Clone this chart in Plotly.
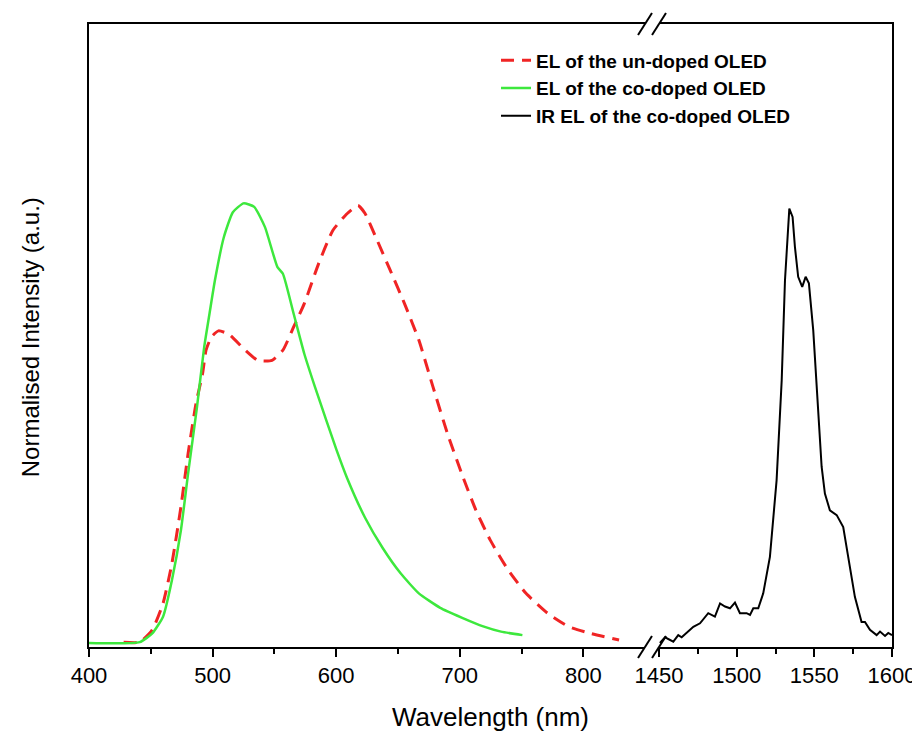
import plotly.graph_objects as go

# ---------------- data ----------------
wl_undoped = [428, 441, 451.2, 459.9, 467.1, 474.4, 480.2, 486.6, 491.9, 494.7, 499, 504.8,
              513.5, 525, 536.6, 548.1, 556.9, 565.6, 574.2, 585.8, 597.4, 609, 617.7, 623.4,
              632.1, 643.7, 655.3, 666.9, 678.4, 690, 701.5, 713.1, 724.7, 739.2, 753.6, 771,
              788.4, 805.8, 828.9]
int_undoped = [0.002, 0.002, 0.03, 0.09, 0.181, 0.31, 0.431, 0.545, 0.613, 0.666, 0.696, 0.71,
               0.702, 0.67, 0.643, 0.643, 0.666, 0.719, 0.772, 0.863, 0.939, 0.977, 0.995, 0.977,
               0.923, 0.848, 0.772, 0.689, 0.582, 0.477, 0.386, 0.302, 0.234, 0.166, 0.113, 0.068,
               0.037, 0.022, 0.007]

wl_codoped = [400, 441, 451.2, 459.9, 467.1, 474.4, 480.2, 487.4, 493.2, 497.5, 501.9, 509.1,
              516.4, 525, 533.7, 542.4, 552.5, 556.9, 565.6, 574.2, 582.9, 591.6, 600.2, 608.9,
              623.4, 637.9, 652.3, 666.9, 684.2, 701.5, 719, 733.4, 750.7]
int_codoped = [0.0, 0.002, 0.022, 0.06, 0.143, 0.257, 0.386, 0.537, 0.673, 0.749, 0.825, 0.923,
               0.98, 1.0, 0.992, 0.946, 0.855, 0.840, 0.749, 0.658, 0.582, 0.51, 0.44, 0.375,
               0.285, 0.215, 0.158, 0.113, 0.08, 0.058, 0.038, 0.026, 0.018]

wl_ir = [1450.6, 1453.9, 1459.2, 1462.4, 1464.6, 1472.1, 1476.4, 1481.7, 1486, 1489.3, 1492.5,
         1495.7, 1498.9, 1502.1, 1506.4, 1508.6, 1510.7, 1513.9, 1517.1, 1521.4, 1525.7, 1529,
         1531.1, 1533.9, 1536, 1537.5, 1539.6, 1542.2, 1544.4, 1546.5, 1549.3, 1552.5, 1554.7,
         1556.8, 1560, 1564.4, 1568.6, 1571.8, 1576.1, 1580.4, 1582.6, 1585.8, 1590.1, 1592.3,
         1595.5, 1597.6, 1600]
int_ir = [0.0, 0.013, 0.003, 0.018, 0.013, 0.037, 0.045, 0.068, 0.06, 0.09, 0.083, 0.079, 0.092,
          0.068, 0.068, 0.064, 0.079, 0.079, 0.113, 0.196, 0.37, 0.598, 0.825, 0.988, 0.969,
          0.901, 0.833, 0.81, 0.833, 0.818, 0.711, 0.522, 0.401, 0.34, 0.302, 0.291, 0.264,
          0.196, 0.105, 0.048, 0.048, 0.03, 0.018, 0.026, 0.016, 0.023, 0.018]

names = ["EL of the un-doped OLED", "EL of the co-doped OLED", "IR EL of the co-doped OLED"]
x_title = "Wavelength (nm)"
y_title = "Normalised Intensity (a.u.)"

FONT = "Liberation Sans, Arial, Helvetica, sans-serif"

# ---------------- figure ----------------
fig = go.Figure()
fig.add_trace(go.Scatter(x=wl_undoped, y=int_undoped, mode="lines", name=names[0],
                         line=dict(color="#f02424", width=3, dash="13px,8px",
                                   shape="spline", smoothing=0.5),
                         xaxis="x", yaxis="y"))
fig.add_trace(go.Scatter(x=wl_codoped, y=int_codoped, mode="lines", name=names[1],
                         line=dict(color="#3de83d", width=2.5, shape="spline", smoothing=0.5),
                         xaxis="x", yaxis="y"))
fig.add_trace(go.Scatter(x=wl_ir, y=int_ir, mode="lines", name=names[2],
                         line=dict(color="#000000", width=2),
                         xaxis="x2", yaxis="y2"))

# the page body adds an 8px offset; figure geometry below is in figure pixels
OFF = 8
FW, FH = 920 - OFF, 735 - OFF
L, R, T, B = 89 - OFF, 892 - OFF, 23.5 - OFF, 647 - OFF
W, H = R - L, B - T
left_end_px, right_start_px = 645 - OFF, 659 - OFF
d1 = (left_end_px - L) / W
d2 = (right_start_px - L) / W

yr = [-0.009, 1.408]

axis_common = dict(showline=True, linecolor="black", linewidth=2, showgrid=False,
                   zeroline=False, ticks="outside", tickwidth=2, ticklen=8,
                   tickcolor="black", tickfont=dict(family=FONT, size=22, color="black"),
                   mirror=True, ticklabeloverflow="allow")

fig.update_layout(
    width=FW, height=FH,
    margin=dict(l=L, r=FW - R, t=T, b=FH - B, autoexpand=False),
    paper_bgcolor="white", plot_bgcolor="white",
    xaxis=dict(domain=[0, d1], range=[400, 849.9], tick0=400, dtick=100,
               minor=dict(dtick=50, tick0=400, ticks="outside", ticklen=5, tickwidth=2,
                          tickcolor="black"),
               anchor="y", **axis_common),
    xaxis2=dict(domain=[d2, 1], range=[1450, 1600], tick0=1450, dtick=50,
                minor=dict(dtick=25, tick0=1450, ticks="outside", ticklen=5, tickwidth=2,
                           tickcolor="black"),
                anchor="y2", **axis_common),
    yaxis=dict(range=yr, showline=True, linecolor="black", linewidth=2, showgrid=False,
               zeroline=False, showticklabels=False, ticks="", anchor="x"),
    yaxis2=dict(range=yr, showline=True, linecolor="black", linewidth=2, showgrid=False,
                zeroline=False, showticklabels=False, ticks="", anchor="x2", side="right",
                matches="y"),
    showlegend=True,
    legend=dict(x=(496 - OFF - L) / W, y=(B - (41 - OFF)) / H, xanchor="left", yanchor="top",
                bgcolor="rgba(0,0,0,0)", borderwidth=0,
                font=dict(family=FONT, size=19, color="black", weight="bold"),
                tracegroupgap=0),
    font=dict(family=FONT, color="black"),
)

# axis titles as real text
fig.add_annotation(text=x_title, xref="paper", yref="paper", x=0.5, y=-(717 - 647) / H,
                   xanchor="center", yanchor="middle", showarrow=False,
                   font=dict(family=FONT, size=26, color="black"))
fig.add_annotation(text=y_title, xref="paper", yref="paper", x=-(89 - 30) / W,
                   y=(647 - 337) / H, xanchor="center", yanchor="middle", textangle=-90,
                   showarrow=False, font=dict(family=FONT, size=24, color="black"))

# axis-break marks "//" on bottom and top frame
dx, dy = 7 / W, 11 / H
for cx in (d1, d2):
    for cy in (0, 1):
        fig.add_shape(type="line", xref="paper", yref="paper",
                      x0=cx - dx, y0=cy - dy, x1=cx + dx, y1=cy + dy,
                      line=dict(color="black", width=2), layer="above")

fig.write_html("out.html")
